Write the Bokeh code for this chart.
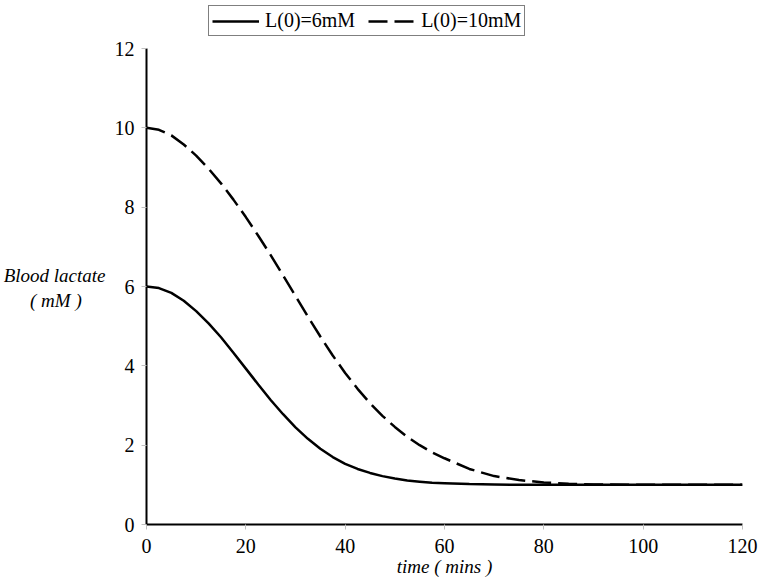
from bokeh.plotting import figure
from bokeh.models import Range1d, FixedTicker, Legend, LegendItem
from bokeh.embed import file_html
from bokeh.resources import INLINE

# time (mins)
time = [0, 2.5, 5, 7.5, 10, 12.5, 15, 17.5, 20, 22.5, 25, 27.5, 30, 32.5, 35,
        37.5, 40, 42.5, 45, 47.5, 50, 52.5, 55, 57.5, 60, 65, 70, 75, 80, 85,
        90, 100, 110, 120]
# Blood lactate, L(0)=6mM
lactate_6 = [6.00, 5.96, 5.84, 5.64, 5.38, 5.07, 4.72, 4.33, 3.93, 3.53, 3.14,
             2.78, 2.45, 2.16, 1.91, 1.70, 1.53, 1.40, 1.30, 1.22, 1.16, 1.11,
             1.08, 1.05, 1.04, 1.02, 1.01, 1.00, 1.00, 1.00, 1.00, 1.00, 1.00,
             1.00]
# Blood lactate, L(0)=10mM
lactate_10 = [10.00, 9.95, 9.81, 9.58, 9.30, 8.97, 8.60, 8.19, 7.75, 7.28, 6.79,
              6.28, 5.76, 5.24, 4.74, 4.26, 3.82, 3.42, 3.06, 2.74, 2.46, 2.21,
              2.00, 1.82, 1.67, 1.40, 1.22, 1.12, 1.06, 1.03, 1.01, 1.00, 1.00,
              1.00]
series_labels = ["L(0)=6mM", "L(0)=10mM"]
x_ticks = [0, 20, 40, 60, 80, 100, 120]
y_ticks = [0, 2, 4, 6, 8, 10, 12]
x_title = "time ( mins )"
NB = "\u00a0"
# two blank lines on top push the block down to the middle of the drawn axis;
# non-breaking spaces centre the "( mM )" line under the first
y_title = NB + "\n" + NB + "\nBlood lactate\n( mM )" + NB * 5

FONT = "Liberation Serif"
Y_MAX = 12
# frame runs to the top of the canvas (room for the legend); axis stops at 12
Y_TOP = Y_MAX * 524 / 476

p = figure(width=759, height=580, output_backend="svg", toolbar_location=None,
           x_range=Range1d(0, 120), y_range=Range1d(0, Y_TOP),
           min_border_left=146, min_border_right=17,
           min_border_top=0, min_border_bottom=56)
p.outline_line_color = None
p.grid.visible = False
p.background_fill_color = "white"
p.border_fill_color = "white"

for ax, ticks in ((p.xaxis, x_ticks), (p.yaxis, y_ticks)):
    ax.ticker = FixedTicker(ticks=ticks)
    ax.axis_line_color = "black"
    ax.axis_line_width = 2
    ax.major_tick_line_color = "#c0c0c0"
    ax.major_tick_line_width = 1
    ax.major_tick_out = 5
    ax.major_tick_in = 0
    ax.minor_tick_line_color = None
    ax.major_label_text_font = FONT
    ax.major_label_text_font_size = "20px"
    ax.major_label_text_color = "black"
    ax.axis_label_text_font = FONT
    ax.axis_label_text_font_style = "italic"
    ax.axis_label_text_font_size = "19px"
    ax.axis_label_text_color = "black"

p.yaxis.bounds = (0, Y_MAX)
p.yaxis.major_label_standoff = 7
p.xaxis.major_label_standoff = 9
p.xaxis.axis_label = x_title
p.xaxis.axis_label_standoff = 0
p.yaxis.axis_label = y_title
p.yaxis.axis_label_orientation = "horizontal"
p.yaxis.axis_label_standoff = 6

r1 = p.line(time, lactate_6, line_color="black", line_width=2.5)
r2 = p.line(time, lactate_10, line_color="black", line_width=2.5,
            line_dash="19 7")

legend = Legend(items=[LegendItem(label=series_labels[0], renderers=[r1]),
                       LegendItem(label=series_labels[1], renderers=[r2])],
                location=(62, 488), orientation="horizontal",
                border_line_color="black", border_line_width=1.5,
                label_text_font=FONT, label_text_font_size="20px",
                label_text_color="black",
                glyph_width=47, glyph_height=20, label_height=20,
                label_standoff=6, spacing=13, padding=3, margin=0,
                background_fill_color="white", background_fill_alpha=1)
p.add_layout(legend, "center")

open("out.html", "w").write(file_html(p, INLINE))
